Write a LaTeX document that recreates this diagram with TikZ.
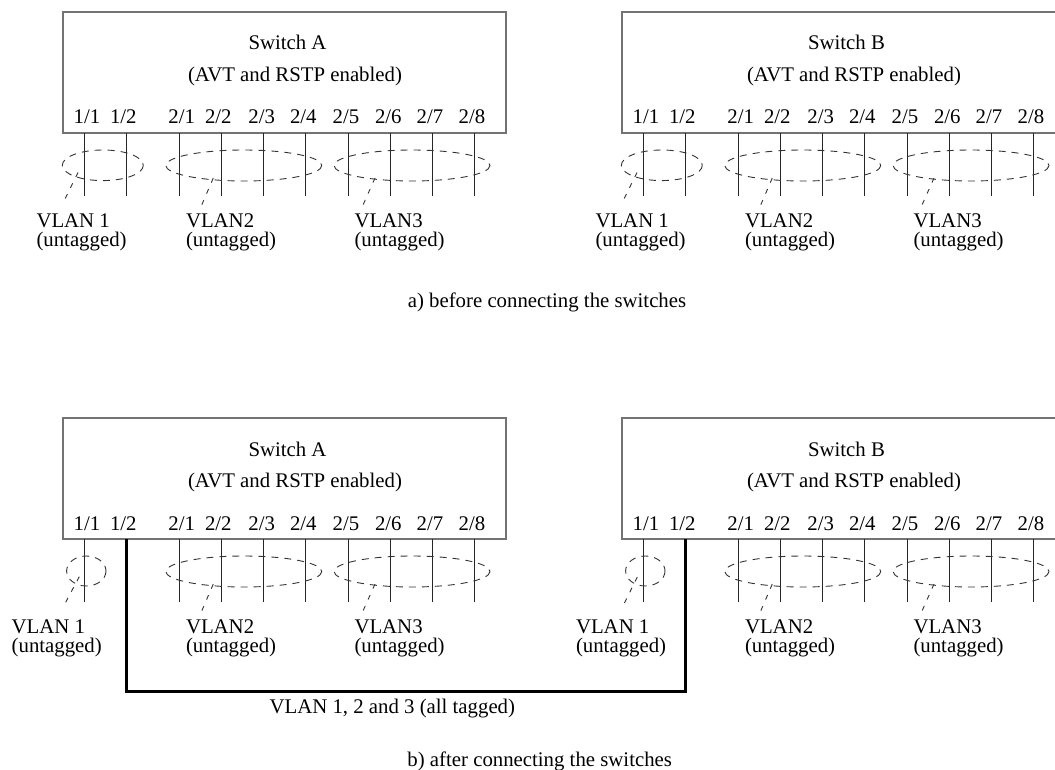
\documentclass[tikz,border=0pt]{standalone}
\usepackage{fontspec}
\setmainfont{Liberation Serif}
\begin{document}
\begin{tikzpicture}[x=1pt,y=-1pt,
  every node/.style={font=\fontsize{20.8}{18.8}\selectfont, inner sep=0pt, outer sep=0pt},
  switchbox/.style={draw=black!55, line width=1.2pt, rectangle, minimum width=443pt, minimum height=121pt, anchor=north west},
  portline/.style={draw=black!85, line width=1pt},
  vlanring/.style={draw=black!80, line width=0.9pt, dash pattern=on 7pt off 6pt},
  leader/.style={draw=black!80, line width=0.9pt, dash pattern=on 5pt off 7pt},
  cable/.style={draw=black, line width=3.3pt},
  lbl/.style={anchor=base west, align=left},
  ctext/.style={anchor=base}]
\useasboundingbox (0,0) rectangle (1055,770);
\clip (0,0) rectangle (1055,770);

% switches, titles, port labels, port coordinates
\foreach \s/\dx in {A/0,B/559}{
  \foreach \r/\dy in {t/0,b/406}{
    \node[switchbox] (sw\s\r) at (63+\dx,12+\dy) {};
    \node[ctext] (name\s\r) at (287.5+\dx,50+\dy) {Switch \s};
    \node[ctext] (feat\s\r) at (295+\dx,81.7+\dy) {(AVT and RSTP enabled)};
    \foreach \a/\b/\lx [count=\i] in {1/1/87,1/2/123.3,2/1/181.7,2/2/218.3,2/3/261.7,2/4/303.3,2/5/346,2/6/388.3,2/7/430,2/8/472}{
      \node[ctext] (pl\s\r\i) at (\lx+\dx,124+\dy) {\a/\b};
    }
    \foreach \px [count=\i] in {84.3,126.7,179.3,221.5,263.7,305.9,348.1,390.3,432.5,474.7}{
      \coordinate (pt\s\r\i) at (\px+\dx,133+\dy);
      \coordinate (pe\s\r\i) at (\px+\dx,195.7+\dy);
    }
  }
}

% port lines
\foreach \s in {A,B}{
  \foreach \i in {1,...,10}{ \draw[portline] (pt\s t\i) -- (pe\s t\i); }
  \foreach \i in {1,3,4,5,6,7,8,9,10}{ \draw[portline] (pt\s b\i) -- (pe\s b\i); }
}

% VLAN rings
\foreach \dx in {0,559}{
  \draw[vlanring] (102.8+\dx,165.3) ellipse [x radius=40.5, y radius=15.3];
  \foreach \dy in {0,406}{
    \draw[vlanring] (243.8+\dx,165.5+\dy) ellipse [x radius=78, y radius=15.5];
    \draw[vlanring] (412+\dx,165.5+\dy) ellipse [x radius=78, y radius=15.5];
  }
}
\draw[vlanring] (86.3,571) ellipse [x radius=19.7, y radius=15];
\draw[vlanring] (645.3,571) ellipse [x radius=19.7, y radius=15];

% leaders
\foreach \s/\dx in {A/0,B/559}{
  \coordinate (l1s\s t) at (78+\dx,172.5);   \coordinate (l1e\s t) at (63.5+\dx,202);
  \draw[leader] (l1s\s t) -- (l1e\s t);
  \foreach \r/\dy in {t/0,b/406}{
    \coordinate (l2s\s\r) at (213.3+\dx,178+\dy); \coordinate (l2e\s\r) at (201.7+\dx,205+\dy);
    \coordinate (l3s\s\r) at (375+\dx,178+\dy);   \coordinate (l3e\s\r) at (363+\dx,205+\dy);
    \draw[leader] (l2s\s\r) -- (l2e\s\r);
    \draw[leader] (l3s\s\r) -- (l3e\s\r);
  }
}
\coordinate (l1sAb) at (79.3,576.7);  \coordinate (l1eAb) at (63.3,606.7);
\coordinate (l1sBb) at (637.3,577);   \coordinate (l1eBb) at (622.3,607.3);
\draw[leader] (l1sAb) -- (l1eAb);
\draw[leader] (l1sBb) -- (l1eBb);

% VLAN labels (base = baseline of the last line)
\foreach \s/\dx in {A/0,B/559}{
  \node[lbl] (v1\s t) at (36.5+\dx,246.3) {VLAN 1\\(untagged)};
  \foreach \r/\dy in {t/0,b/406}{
    \node[lbl] (v2\s\r) at (186+\dx,246.3+\dy) {VLAN2\\(untagged)};
    \node[lbl] (v3\s\r) at (354.5+\dx,246.3+\dy) {VLAN3\\(untagged)};
  }
}
\node[lbl] (v1Ab) at (11.7,652.3) {VLAN 1\\(untagged)};
\node[lbl] (v1Bb) at (576,652.3) {VLAN 1\\(untagged)};

% trunk cable between the two 1/2 ports
\draw[cable] (ptAb2) -- ++(0,152.7) -| (ptBb2);
\node[ctext] (trunk) at (392.3,713) {VLAN 1, 2 and 3 (all tagged)};

% captions
\node[ctext] (capa) at (547,307) {a) before connecting the switches};
\node[ctext] (capb) at (539.7,766.5) {b) after connecting the switches};
\end{tikzpicture}
\end{document}
